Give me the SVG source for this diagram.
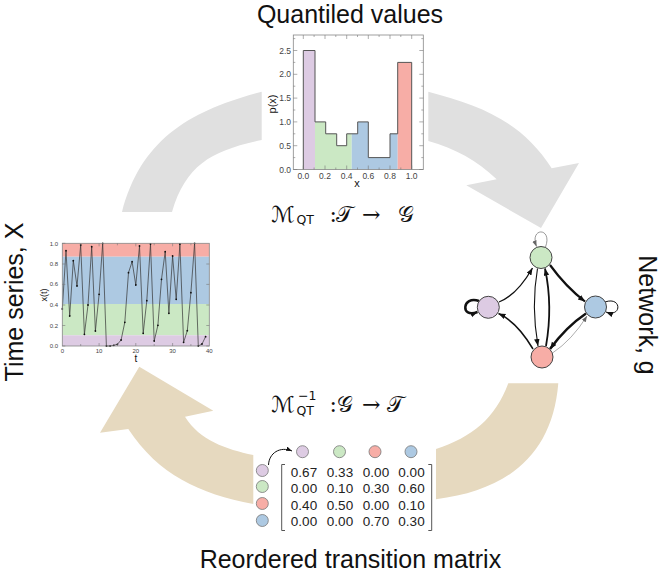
<svg xmlns="http://www.w3.org/2000/svg" width="661" height="573" viewBox="0 0 661 573">
<style>
.t{font-family:"Liberation Sans",Arial,sans-serif;fill:#111}
.big{font-size:25px}
.tk{font-family:"Liberation Sans",Arial,sans-serif;fill:#444}
.num{font-family:"Liberation Sans",Arial,sans-serif;font-size:13.5px;fill:#222;text-anchor:middle}
.math{font-family:"DejaVu Serif","DejaVu Sans",serif;font-size:22px;fill:#111}
.sub{font-family:"DejaVu Sans","Liberation Sans",sans-serif;font-size:12.5px;fill:#111}
.cP{fill:#ddcbe3}.cG{fill:#cbe8c4}.cB{fill:#adc9e2}.cR{fill:#f7ada6}
.node{stroke:#444;stroke-width:1}
.mc{stroke:#777;stroke-width:0.8}
.e{fill:none;stroke:#111}
.frame{fill:none;stroke:#888;stroke-width:0.8}
.tick{stroke:#777;stroke-width:0.6}
</style>
<defs>
<marker id="ah" markerUnits="userSpaceOnUse" markerWidth="9" markerHeight="7" refX="7" refY="2.75" orient="auto"><path d="M0,0 L7,2.75 L0,5.5 z" fill="#111"/></marker>
<marker id="ahg" markerUnits="userSpaceOnUse" markerWidth="9" markerHeight="7" refX="6" refY="2.25" orient="auto"><path d="M0,0 L6,2.25 L0,4.5 z" fill="#666"/></marker>
<marker id="ahs" markerUnits="userSpaceOnUse" markerWidth="9" markerHeight="7" refX="6" refY="2.25" orient="auto"><path d="M0,0 L6,2.25 L0,4.5 z" fill="#111"/></marker>
</defs>

<!-- cycle arrows -->
<g id="cycle-arrows">
<path fill="#e0e0e0" d="M122,212 C141.1,139.5 189.2,110.7 261.7,91.7 L261.7,140 C212.8,150.4 186.2,163.9 172,212 Z"/>
<path fill="#e0e0e0" d="M428.3,91.7 C481.5,105.6 522.1,121.9 551.7,168.3 L579,163 L541,228 L466.3,185.3 L496.7,179.3 C476.5,160 455.2,148.8 428.3,141 Z"/>
<path fill="#e6d9bf" d="M558.3,383.3 C552.5,455.1 507.4,490.3 436,499.3 L436,449 C472.1,437.1 495,418.9 508.3,383.3 Z"/>
<path fill="#e6d9bf" d="M253.3,504 C199.3,493.7 158.6,474.9 128.3,429 L100,432.7 L139.3,366.7 L213.3,410.7 L185,416.7 C199.8,440.4 225.9,449.1 253.3,455 Z"/>
</g>

<!-- labels -->
<g id="labels">
<text class="t big" x="350" y="23" text-anchor="middle">Quantiled values</text>
<text class="t big" x="350.4" y="568" text-anchor="middle">Reordered transition matrix</text>
<text class="t big" transform="translate(23,302) rotate(-90)" text-anchor="middle">Time series, X</text>
<text class="t big" transform="translate(639,315) rotate(90)" text-anchor="middle">Network, g</text>
</g>

<!-- formulas -->
<g id="formula-forward">
<text class="math" x="271" y="221.7">ℳ</text>
<text class="sub" x="296.5" y="223.5">QT</text>
<text class="math" x="329.5" y="221.7">:</text>
<text class="math" x="336" y="221.7">𝒯</text>
<text class="math" x="362" y="221.7">→</text>
<text class="math" x="398" y="221.7">𝒢</text>
</g>
<g id="formula-inverse">
<text class="math" x="271" y="411.7">ℳ</text>
<text class="sub" x="298" y="399.5">−1</text>
<text class="sub" x="296.5" y="414.5">QT</text>
<text class="math" x="329.5" y="411.7">:</text>
<text class="math" x="337" y="411.7">𝒢</text>
<text class="math" x="362" y="411.7">→</text>
<text class="math" x="387" y="411.7">𝒯</text>
</g>

<!-- histogram -->
<g id="histogram">
<rect x="303.3" y="50.5" width="11.7" height="119" class="cP"/>
<path class="cG" d="M315,169.5 V121.9 H325.7 V133.8 H336.7 V145.7 H346.7 V133.8 H351.7 V169.5 Z"/>
<path class="cB" d="M351.7,169.5 V133.8 H357.7 V121.9 H368.3 V157.6 H390 V133.8 H397.7 V169.5 Z"/>
<rect x="397.7" y="62.4" width="14" height="107.1" class="cR"/>
<path fill="none" stroke="#555" stroke-width="1" d="M303.3,169.5 V50.5 H315 V121.9 H325.7 V133.8 H336.7 V145.7 H346.7 V133.8 H357.7 V121.9 H368.3 V157.6 H390 V133.8 H397.7 V62.4 H411.7 V169.5"/>
<rect x="293.3" y="35" width="130" height="134.5" class="frame"/>
<path class="tick" d="M293.3,169.5h4M293.3,145.7h4M293.3,121.9h4M293.3,98.1h4M293.3,74.3h4M293.3,50.5h4M293.3,157.6h2M293.3,133.8h2M293.3,110h2M293.3,86.2h2M293.3,62.4h2M293.3,38.6h2
M423.3,169.5h-4M423.3,145.7h-4M423.3,121.9h-4M423.3,98.1h-4M423.3,74.3h-4M423.3,50.5h-4M423.3,157.6h-2M423.3,133.8h-2M423.3,110h-2M423.3,86.2h-2M423.3,62.4h-2M423.3,38.6h-2
M303.3,169.5v-4M325,169.5v-4M346.7,169.5v-4M368.3,169.5v-4M390,169.5v-4M411.7,169.5v-4M314.1,169.5v-2M335.8,169.5v-2M357.5,169.5v-2M379.1,169.5v-2M400.8,169.5v-2
M303.3,35v4M325,35v4M346.7,35v4M368.3,35v4M390,35v4M411.7,35v4M314.1,35v2M335.8,35v2M357.5,35v2M379.1,35v2M400.8,35v2"/>
<g class="tk" font-size="8.5" text-anchor="end">
<text x="291" y="172.5">0.0</text><text x="291" y="148.7">0.5</text><text x="291" y="124.9">1.0</text><text x="291" y="101.1">1.5</text><text x="291" y="77.3">2.0</text><text x="291" y="53.5">2.5</text>
</g>
<g class="tk" font-size="8.5" text-anchor="middle">
<text x="303.3" y="179">0.0</text><text x="325" y="179">0.2</text><text x="346.7" y="179">0.4</text><text x="368.3" y="179">0.6</text><text x="390" y="179">0.8</text><text x="411.7" y="179">1.0</text>
</g>
<text class="t" font-size="11" x="357" y="187" text-anchor="middle">x</text>
<text class="t" font-size="11" transform="translate(275.5,104) rotate(-90)" text-anchor="middle">p(x)</text>
</g>

<!-- time series -->
<g id="time-series">
<rect x="62.3" y="243.3" width="147" height="13.4" class="cR"/>
<rect x="62.3" y="256.7" width="147" height="47.3" class="cB"/>
<rect x="62.3" y="304" width="147" height="31.3" class="cG"/>
<rect x="62.3" y="335.3" width="147" height="10.7" class="cP"/>
<polyline fill="none" stroke="#333" stroke-width="0.7" points="62.3,309 66,250.7 69.7,316 73.3,260.7 77,286 80.7,245 84.4,334.3 88,305 91.7,246.7 95.4,331 99.1,294.3 102.7,243.3 106.4,346 110.1,346 113.8,345.3 117.4,344.3 121.1,340 124.8,322.3 128.5,272.7 132.1,261.7 135.8,285 139.5,246 143.2,333.3 146.8,300.7 150.5,244 154.2,341 157.9,325.3 161.5,279.3 165.2,251.7 168.9,313.3 172.6,256 176.2,299.3 179.9,244 183.6,342.3 187.3,330.7 190.9,292.7 194.6,243.3 198.3,346 202,344 205.6,336.7"/>
<path fill="none" stroke="#111" stroke-width="1.8" stroke-linecap="round" d="M62.3,309h0M66,250.7h0M69.7,316h0M73.3,260.7h0M77,286h0M80.7,245h0M84.4,334.3h0M88,305h0M91.7,246.7h0M95.4,331h0M99.1,294.3h0M102.7,243.3h0M106.4,346h0M110.1,346h0M113.8,345.3h0M117.4,344.3h0M121.1,340h0M124.8,322.3h0M128.5,272.7h0M132.1,261.7h0M135.8,285h0M139.5,246h0M143.2,333.3h0M146.8,300.7h0M150.5,244h0M154.2,341h0M157.9,325.3h0M161.5,279.3h0M165.2,251.7h0M168.9,313.3h0M172.6,256h0M176.2,299.3h0M179.9,244h0M183.6,342.3h0M187.3,330.7h0M190.9,292.7h0M194.6,243.3h0M198.3,346h0M202,344h0M205.6,336.7h0"/>
<rect x="62.3" y="243.3" width="147" height="102.7" class="frame"/>
<path class="tick" d="M62.3,346h3M62.3,325.5h3M62.3,305h3M62.3,284.4h3M62.3,264h3M62.3,243.3h3M209.3,346h-3M209.3,325.5h-3M209.3,305h-3M209.3,284.4h-3M209.3,264h-3
M99.1,346v-3M135.8,346v-3M172.6,346v-3M80.7,346v-2M117.4,346v-2M154.2,346v-2M190.9,346v-2M99.1,243.3v3M135.8,243.3v3M172.6,243.3v3M80.7,243.3v2M117.4,243.3v2M154.2,243.3v2M190.9,243.3v2"/>
<g class="tk" font-size="6" text-anchor="end">
<text x="58" y="348">0.0</text><text x="58" y="327.5">0.2</text><text x="58" y="307">0.4</text><text x="58" y="286.4">0.6</text><text x="58" y="266">0.8</text><text x="58" y="245.5">1.0</text>
</g>
<g class="tk" font-size="6" text-anchor="middle">
<text x="62.3" y="352.5">0</text><text x="99.1" y="352.5">10</text><text x="135.8" y="352.5">20</text><text x="172.6" y="352.5">30</text><text x="209.3" y="352.5">40</text>
</g>
<text class="t" font-size="10" x="135.8" y="362" text-anchor="middle">t</text>
<text class="t" font-size="9" transform="translate(47,295) rotate(-90)" text-anchor="middle">x(t)</text>
</g>

<!-- network -->
<g id="network-edges">
<path class="e" stroke-width="1.3" marker-end="url(#ah)" d="M499,302 Q517,295 532.5,268"/>
<path class="e" stroke-width="2.2" marker-end="url(#ah)" d="M550,265 Q566,287 585,301.5"/>
<path class="e" stroke-width="1.1" marker-end="url(#ah)" d="M537.5,268.5 Q531,306 538,346"/>
<path class="e" stroke-width="1.8" marker-end="url(#ah)" d="M546,346 Q553,306 545,268.5"/>
<path class="e" stroke-width="1.5" marker-end="url(#ah)" d="M533,349 Q517,322 498.5,313.5"/>
<path fill="none" stroke="#777" stroke-width="0.6" marker-end="url(#ahg)" d="M552.5,353 Q572,340 587,316"/>
<path class="e" stroke-width="2.5" marker-end="url(#ah)" d="M586,313.5 Q566,327 550,349"/>
<path fill="none" stroke="#555" stroke-width="0.6" marker-end="url(#ahg)" d="M545.5,247 C553,227 529,227 536.5,246.5"/>
<path class="e" stroke-width="2.5" marker-end="url(#ah)" d="M479,301 C462,295 460,319 477.5,312"/>
<path class="e" stroke-width="1" marker-end="url(#ah)" d="M605,302 C622,296 622,318 606,312"/>
</g>
<g id="node-green"><circle cx="541" cy="257.5" r="11" class="cG node"/></g>
<g id="node-purple"><circle cx="488.3" cy="307.3" r="11" class="cP node"/></g>
<g id="node-blue"><circle cx="595.5" cy="307" r="11" class="cB node"/></g>
<g id="node-red"><circle cx="542" cy="357" r="11" class="cR node"/></g>

<!-- matrix -->
<g id="matrix">
<circle cx="302.5" cy="451.7" r="6" class="cP mc"/>
<circle cx="339.5" cy="451.7" r="6" class="cG mc"/>
<circle cx="375" cy="451.7" r="6" class="cR mc"/>
<circle cx="411" cy="451.7" r="6" class="cB mc"/>
<circle cx="262.3" cy="470.5" r="6" class="cP mc"/>
<circle cx="262.3" cy="486.5" r="6" class="cG mc"/>
<circle cx="262.3" cy="503.5" r="6" class="cR mc"/>
<circle cx="262.3" cy="520.5" r="6" class="cB mc"/>
<path fill="none" stroke="#111" stroke-width="1" marker-end="url(#ahs)" d="M268.5,465 C269,453 280,446 292,451"/>
<path fill="none" stroke="#555" stroke-width="1" d="M285,464.5 H281.7 V530.5 H285 M428.3,464.5 H431.7 V530.5 H428.3"/>
<text class="num" x="304" y="477">0.67</text><text class="num" x="340" y="477">0.33</text><text class="num" x="376" y="477">0.00</text><text class="num" x="411.5" y="477">0.00</text>
<text class="num" x="304" y="493.3">0.00</text><text class="num" x="340" y="493.3">0.10</text><text class="num" x="376" y="493.3">0.30</text><text class="num" x="411.5" y="493.3">0.60</text>
<text class="num" x="304" y="509.7">0.40</text><text class="num" x="340" y="509.7">0.50</text><text class="num" x="376" y="509.7">0.00</text><text class="num" x="411.5" y="509.7">0.10</text>
<text class="num" x="304" y="526">0.00</text><text class="num" x="340" y="526">0.00</text><text class="num" x="376" y="526">0.70</text><text class="num" x="411.5" y="526">0.30</text>
</g>
</svg>
